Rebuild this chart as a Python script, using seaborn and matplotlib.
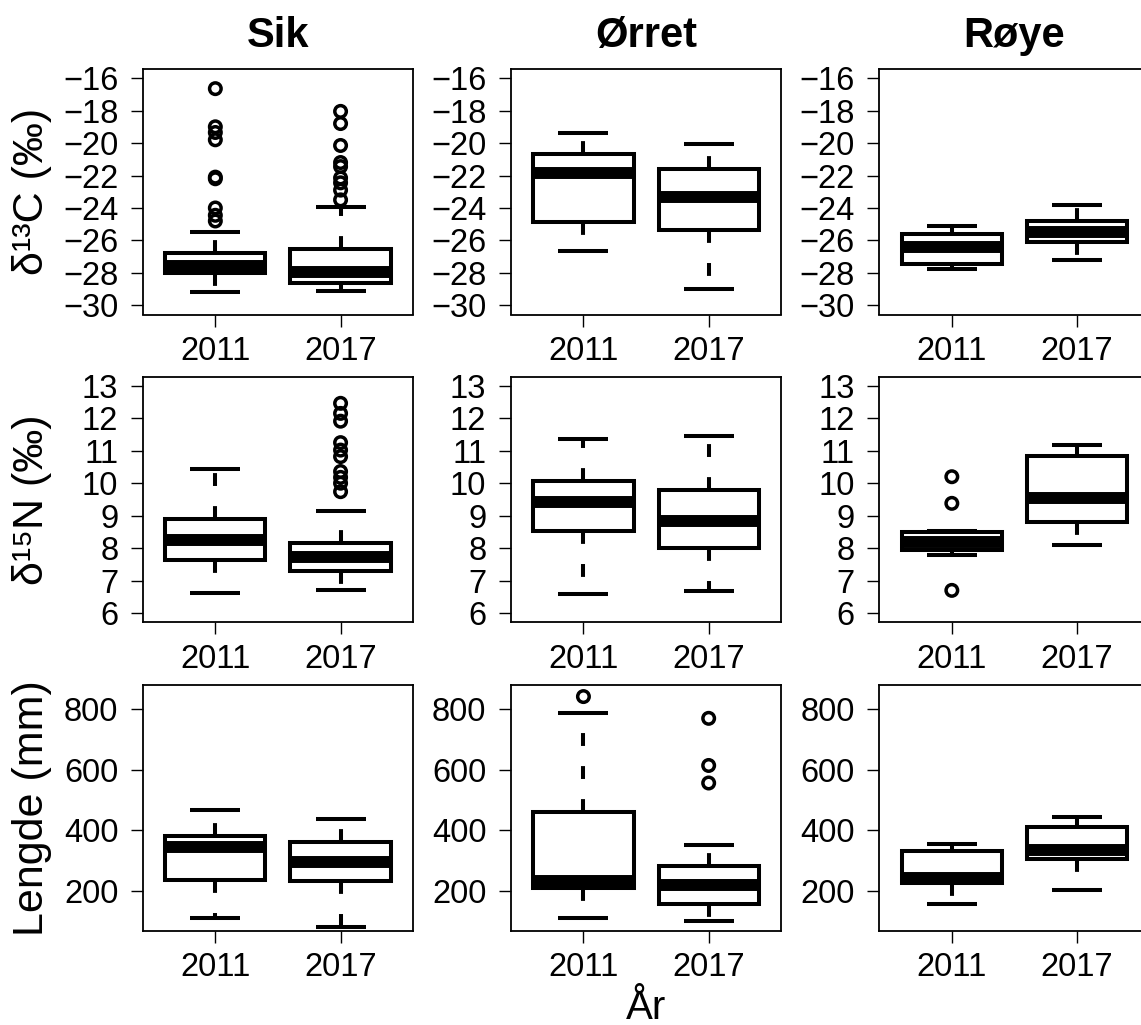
import numpy as np
import pandas as pd
import matplotlib
matplotlib.use("Agg")
import matplotlib.pyplot as plt
import seaborn as sns

# ---------------- data (five-number summaries + outliers) ----------------
species = ["Sik", "Ørret", "Røye"]
years = ["2011", "2017"]

# d13C
sik_d13c_2011 = [-29.18, -28.0, -27.6, -26.75, -25.46]
sik_d13c_2017 = [-29.12, -28.6, -27.95, -26.53, -23.97]
sik_d13c_out_2011 = [-16.65, -19.0, -19.35, -19.8, -22.1, -22.2, -24.0, -24.45, -24.8]
sik_d13c_out_2017 = [-18.05, -18.8, -20.15, -21.2, -21.45, -22.15, -22.45, -22.9, -23.5]
orret_d13c_2011 = [-26.66, -24.88, -21.84, -20.65, -19.37]
orret_d13c_2017 = [-28.97, -25.36, -23.33, -21.58, -20.05]
roye_d13c_2011 = [-27.73, -27.46, -26.43, -25.63, -25.09]
roye_d13c_2017 = [-27.2, -26.1, -25.5, -24.8, -23.83]

# d15N
sik_d15n_2011 = [6.62, 7.64, 8.26, 8.89, 10.45]
sik_d15n_2017 = [6.72, 7.31, 7.72, 8.17, 9.13]
sik_d15n_out_2017 = [12.46, 12.15, 11.91, 11.25, 11.02, 10.82, 10.36, 10.18, 10.0, 9.74]
orret_d15n_2011 = [6.59, 8.54, 9.43, 10.08, 11.35]
orret_d15n_2017 = [6.69, 8.0, 8.85, 9.79, 11.45]
roye_d15n_2011 = [7.79, 7.95, 8.2, 8.49, 8.52]
roye_d15n_2017 = [8.1, 8.8, 9.56, 10.85, 11.18]
roye_d15n_out_2011 = [10.2, 9.38, 6.7]

# Lengde (mm)
sik_len_2011 = [110, 236, 344, 379, 467]
sik_len_2017 = [79, 231, 294, 360, 438]
orret_len_2011 = [110, 209, 233, 459, 789]
orret_len_2017 = [99, 154, 217, 280, 352]
orret_len_out_2011 = [842]
orret_len_out_2017 = [770, 614, 556]
roye_len_2011 = [157, 225, 240, 330, 355]
roye_len_2017 = [203, 305, 335, 409, 444]

row_labels = ["δ¹³C (‰)", "δ¹⁵N (‰)", "Lengde (mm)"]
row_ticks = [np.arange(-30, -15, 2), np.arange(6, 14, 1), np.arange(200, 801, 200)]
row_ylims = [(-30.56, -15.44), (5.72, 13.28), (67.9, 880.3)]

panels = [
    [(sik_d13c_2011, sik_d13c_2017, sik_d13c_out_2011, sik_d13c_out_2017),
     (orret_d13c_2011, orret_d13c_2017, [], []),
     (roye_d13c_2011, roye_d13c_2017, [], [])],
    [(sik_d15n_2011, sik_d15n_2017, [], sik_d15n_out_2017),
     (orret_d15n_2011, orret_d15n_2017, [], []),
     (roye_d15n_2011, roye_d15n_2017, roye_d15n_out_2011, [])],
    [(sik_len_2011, sik_len_2017, [], []),
     (orret_len_2011, orret_len_2017, orret_len_out_2011, orret_len_out_2017),
     (roye_len_2011, roye_len_2017, [], [])],
]

# ---------------- style ----------------
sns.set_theme(style="ticks")
plt.rcParams["font.family"] = ["Liberation Sans", "DejaVu Sans"]
plt.rcParams["axes.unicode_minus"] = True
for k in ["text.color", "axes.labelcolor", "xtick.color", "ytick.color", "axes.edgecolor"]:
    plt.rcParams[k] = "black"

W, H = 1141, 1025
fig = plt.figure(figsize=(W / 100, H / 100), dpi=100)
fig.patch.set_facecolor("white")

col_left = [142.7, 510.8, 879.2]
row_top = [69.0, 376.7, 685.0]
ax_w, ax_h = 270.5, 245.5

LW = 2.9
for r in range(3):
    for c in range(3):
        lo_hi = panels[r][c]
        ax = fig.add_axes([col_left[c] / W, 1 - (row_top[r] + ax_h) / H, ax_w / W, ax_h / H])
        df = pd.DataFrame({
            "year": [years[0]] * len(lo_hi[0]) + [years[1]] * len(lo_hi[1]),
            "value": list(lo_hi[0]) + list(lo_hi[1]),
        })
        sns.boxplot(data=df, x="year", y="value", order=years, ax=ax,
                    whis=(0, 100), width=0.8, color="white", linecolor="black",
                    linewidth=LW, fliersize=0, saturation=1,
                    boxprops=dict(linewidth=LW, joinstyle="miter"),
                    medianprops=dict(linewidth=8.6, solid_capstyle="butt", color="black"),
                    whiskerprops=dict(linewidth=LW, linestyle=(0, (3.2, 5.0)),
                                      dash_capstyle="butt", color="black"),
                    capprops=dict(linewidth=LW, solid_capstyle="butt", color="black"))
        odf = pd.DataFrame({
            "year": [years[0]] * len(lo_hi[2]) + [years[1]] * len(lo_hi[3]),
            "value": list(lo_hi[2]) + list(lo_hi[3]),
        })
        if len(odf):
            n_before = len(ax.collections)
            sns.stripplot(data=odf, x="year", y="value", order=years, ax=ax,
                          jitter=False, size=8.3, linewidth=2.5, color="black",
                          edgecolor="black", zorder=4)
            for coll in ax.collections[n_before:]:
                coll.set_facecolor("none")
                coll.set_edgecolor("black")
                coll.set_linewidth(2.5)
        ax.set_xlim(-0.58, 1.58)
        ax.set_ylim(*row_ylims[r])
        ax.set_yticks(row_ticks[r])
        ax.set_xticks([0, 1])
        ax.set_xticklabels(years)
        ax.set_xlabel("")
        ax.set_ylabel("")
        for s in ax.spines.values():
            s.set_visible(True)
            s.set_linewidth(1.3)
            s.set_color("black")
        ax.tick_params(axis="both", direction="out", length=8.6, width=1.0,
                       colors="black", labelcolor="black", labelsize=23.5)
        ax.tick_params(axis="y", pad=9)
        ax.tick_params(axis="x", pad=7)
        if r == 0:
            ax.set_title(species[c], fontsize=30, fontweight="bold", pad=15.8,
                         color="black")

# row labels
for r in range(3):
    yc = row_top[r] + ax_h / 2
    fig.text(31.7 / W, 1 - yc / H, row_labels[r], rotation=90, ha="center",
             va="center", fontsize=31, color="black")

fig.text((col_left[1] + ax_w / 2) / W, 1 - 1019 / H, "År", ha="center",
         va="baseline", fontsize=29, color="black")

fig.savefig("out.png", dpi=100, facecolor="white")
